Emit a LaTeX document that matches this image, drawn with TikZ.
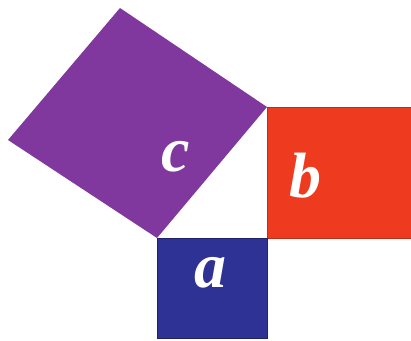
\documentclass[tikz,border=0pt]{standalone}
\usepackage{fontspec}
\setmainfont{Liberation Serif}
\definecolor{sqpurple}{RGB}{128,56,158}
\definecolor{sqred}{RGB}{238,58,30}
\definecolor{sqblue}{RGB}{45,50,148}
\begin{document}
\begin{tikzpicture}[x=1pt,y=-1pt,
  sq/.style={line width=0.6pt},
  lbl/.style={text=white,font=\fontsize{64}{64}\selectfont\bfseries\itshape,inner sep=0pt}]
\useasboundingbox (0,0) rectangle (411,340);
\fill[sqpurple] (120,8) -- (267,107) -- (157,238) -- (8,140) -- cycle;
\filldraw[fill=sqred,draw=sqred!80!black,sq] (267,107) rectangle (413,238);
\filldraw[fill=sqblue,draw=sqblue!70!black,sq] (157,238) rectangle (267,338);
\node[lbl] (c) at (176,157) {c};
\node[lbl] (b) at (305,176) {b};
\node[lbl] (a) at (210,273) {a};
\end{tikzpicture}
\end{document}
